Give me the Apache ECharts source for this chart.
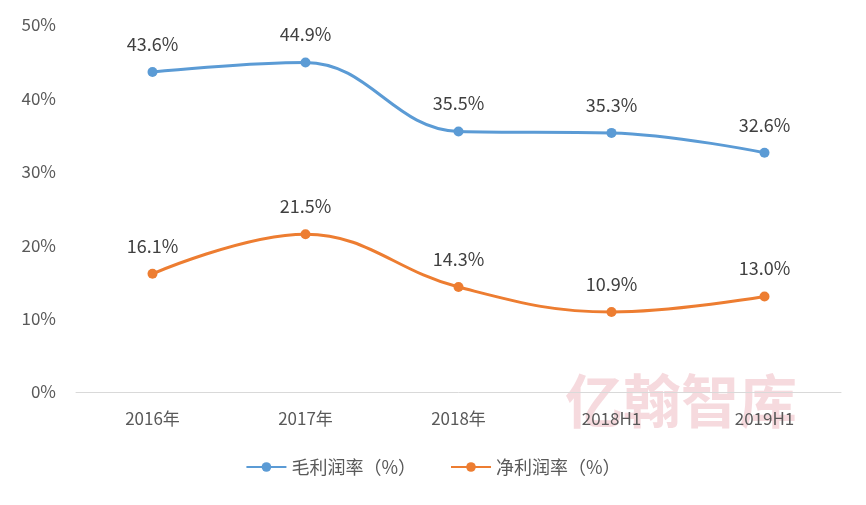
<!DOCTYPE html>
<html><head><meta charset="utf-8">
<script src="https://cdn.jsdelivr.net/npm/echarts@6/dist/echarts.min.js"></script>
<style>html,body{margin:0;padding:0;background:#fff}#c{width:866px;height:505px}</style>
</head><body><div id="c"></div>
<script>
const categories = ['2016年','2017年','2018年','2018H1','2019H1'];
const grossMargin = [43.6, 44.9, 35.5, 35.3, 32.6];
const netMargin = [16.1, 21.5, 14.3, 10.9, 13.0];
const yTicks = [0, 10, 20, 30, 40, 50];
const ff = 'Microsoft YaHei, "Noto Sans CJK SC", sans-serif';
const chart = echarts.init(document.getElementById('c'));
const mk = (name, data, color) => ({
  name, type: 'line', data, smooth: 0.4, symbol: 'circle', symbolSize: 10,
  lineStyle: {width: 3, color}, itemStyle: {color},
  label: {show: true, position: 'top', distance: 14, formatter: p => p.value.toFixed(1) + '%', color: '#404040', fontSize: 18, fontFamily: ff}
});
chart.setOption({
  animation: false,
  grid: {left: 76, right: 25, top: 25, bottom: 113},
  graphic: [{type: 'text', left: 565, top: 372, style: {text: '亿翰智库', fontSize: 58, fontWeight: 'bold', fill: 'rgba(230,150,160,0.35)', fontFamily: ff}}],
  legend: {bottom: 24, left: 'center', itemWidth: 40, itemHeight: 12, itemGap: 34,
    itemStyle: {borderWidth: 0},
    textStyle: {fontSize: 18, color: '#595959', fontFamily: ff}},
  xAxis: {type: 'category', data: categories, boundaryGap: true,
    axisLine: {lineStyle: {color: '#d9d9d9'}}, axisTick: {show: false},
    axisLabel: {fontSize: 17, color: '#595959', margin: 18, fontFamily: ff}},
  yAxis: {type: 'value', min: 0, max: 50, interval: 10, splitLine: {show: false},
    axisLine: {show: false}, axisTick: {show: false},
    axisLabel: {formatter: v => yTicks.includes(v) ? v + '%' : '', fontSize: 17, color: '#595959', margin: 20, fontFamily: ff}},
  series: [mk('毛利润率（%）', grossMargin, '#5B9BD5'), mk('净利润率（%）', netMargin, '#ED7D31')]
});
</script></body></html>
